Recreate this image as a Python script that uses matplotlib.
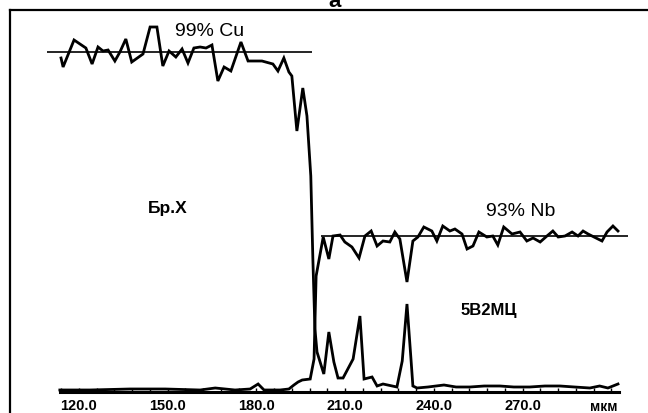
import matplotlib
matplotlib.use("Agg")
import matplotlib.pyplot as plt
from matplotlib.ticker import FixedLocator, FormatStrFormatter

plt.rcParams['font.family'] = ['Liberation Sans', 'DejaVu Sans']

# профиль Cu (мкм, отн. ед.)
cu_x = [114.0, 114.7, 118.4, 121.4, 122.4, 124.5, 126.5, 128.2, 129.9, 132.2,
        133.9, 135.9, 137.9, 141.7, 144.1, 146.4, 148.4, 150.5, 152.8, 154.9,
        156.9, 158.9, 161.0, 163.0, 165.0, 167.0, 169.1, 171.4, 174.8, 177.2,
        181.9, 185.6, 187.3, 189.3, 191.0, 192.0, 193.7, 195.7, 197.1, 198.4,
        199.1, 199.8, 200.5, 202.8, 204.5, 206.2, 207.6, 209.3, 212.7, 215.0,
        216.4, 219.1, 220.8, 222.8, 227.5, 229.3, 230.9, 232.3, 232.9, 234.3,
        238.0, 243.4, 247.5, 252.2, 257.0, 262.3, 267.0, 272.4, 277.5, 282.6,
        287.5, 292.7, 296.0, 298.8, 302.2]
cu_y = [333, 324, 351, 345, 343, 327, 344, 340, 341, 330,
        339, 352, 329, 337, 364, 364, 325, 340, 334, 342,
        328, 343, 344, 343, 346, 310, 324, 320, 349, 330,
        330, 327, 320, 333, 319, 315, 260, 303, 275, 215,
        132, 62, 39, 17, 59, 29, 13, 13, 32, 75,
        12, 14, 5, 7, 4, 30, 87, 30, 5, 3,
        4, 6, 4, 4, 5, 5, 4, 4, 5, 5,
        4, 3, 5, 3, 7]

# профиль Nb
nb_x = [113.6, 123.8, 137.3, 149.2, 161.0, 166.1, 172.8, 177.9, 180.6, 182.6,
        188.0, 191.0, 192.7, 194.1, 195.5, 198.2, 199.5, 200.2, 202.6, 204.5,
        205.9, 208.3, 209.9, 212.3, 214.7, 216.7, 218.8, 220.8, 222.8, 225.1,
        226.8, 228.5, 230.9, 232.9, 234.6, 236.6, 239.3, 241.0, 243.0, 245.4,
        247.1, 249.5, 251.2, 253.2, 255.2, 257.9, 259.9, 261.6, 263.6, 266.4,
        269.1, 271.4, 273.5, 275.9, 278.2, 280.2, 282.0, 284.3, 286.7, 288.7,
        290.4, 292.1, 294.1, 296.8, 298.5, 300.5, 302.2]
nb_y = [1, 1, 2, 2, 1, 3, 1, 2, 7, 1,
        1, 2, 6, 9, 11, 12, 32, 115, 154, 132,
        155, 156, 149, 144, 133, 155, 160, 145, 150, 149,
        159, 152, 109, 150, 154, 164, 160, 150, 165, 160,
        162, 157, 142, 145, 159, 154, 155, 146, 164, 157,
        159, 150, 153, 149, 155, 160, 154, 155, 159, 155,
        160, 157, 154, 150, 159, 165, 160]

# средние уровни
cu_level = 339
cu_span = [109.3, 198.8]
nb_level = 155
nb_span = [201.9, 305.6]

major_ticks = [120, 150, 180, 210, 240, 270]
minor_ticks = list(range(114, 301, 6))

fig = plt.figure(figsize=(6.48, 4.14), dpi=100)
ax = fig.add_axes([10/648, 1 - 460/414, 650/648, 449/414])
ax.set_xlim(96.76, 316.4)
ax.set_ylim(-68, 381)

ax.plot(cu_x, cu_y, color='black', lw=2.0, solid_joinstyle='miter')
ax.plot(nb_x, nb_y, color='black', lw=2.0, solid_joinstyle='miter')
ax.hlines(cu_level, cu_span[0], cu_span[1], color='black', lw=1.2)
ax.hlines(nb_level, nb_span[0], nb_span[1], color='black', lw=1.2)

# рамка и ось
for s in ['left', 'top']:
    ax.spines[s].set_linewidth(1.6)
ax.spines['right'].set_visible(False)
ax.spines['bottom'].set_position(('data', -1))
ax.spines['bottom'].set_bounds(113.6, 302.5)
ax.spines['bottom'].set_linewidth(2.2)
ax.yaxis.set_visible(False)
ax.set_xticks(major_ticks)
ax.xaxis.set_minor_locator(FixedLocator(minor_ticks))
ax.xaxis.set_major_formatter(FormatStrFormatter('%.1f'))
ax.tick_params(axis='x', which='both', direction='in', length=3, width=1, pad=4)
for lab in ax.get_xticklabels():
    lab.set_fontsize(10.5)
    lab.set_fontweight('bold')
ax.text(297.3, -8.5, 'мкм', fontsize=10, fontweight='bold', ha='center', va='top')

ax.text(164.3, 352, '99% Cu', fontsize=14, ha='center', va='bottom')
ax.text(269.4, 172, '93% Nb', fontsize=14, ha='center', va='bottom')
ax.text(150.1, 184, 'Бр.Х', fontsize=12.5, fontweight='bold', ha='center', va='center')
ax.text(258.6, 82, '5В2МЦ', fontsize=12, fontweight='bold', ha='center', va='center')

fig.text(335/648, 1 - 7/414, 'a', fontsize=16, fontweight='bold', ha='center', va='baseline')

fig.savefig('out.png', dpi=100)
